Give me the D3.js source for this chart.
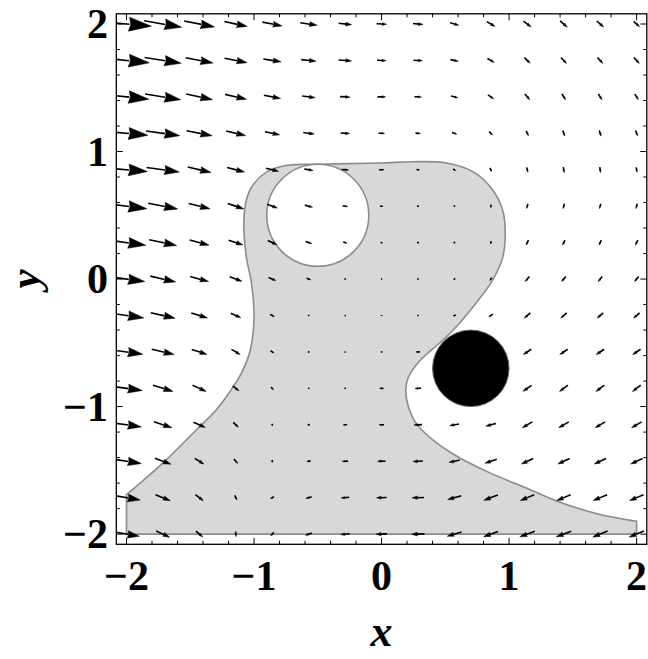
<!DOCTYPE html>
<html>
<head>
<meta charset="utf-8">
<script src="https://cdn.jsdelivr.net/npm/d3@7"></script>
<style>
  body { margin: 0; background: #fff; }
  svg { display: block; }
</style>
</head>
<body>
<svg width="648" height="659"></svg>
<script>
// grid where the field was sampled (15 x 15)
const gridX = [-2, -1.7143, -1.4286, -1.1429, -0.8571, -0.5714, -0.2857, 0, 0.2857, 0.5714, 0.8571, 1.1429, 1.4286, 1.7143, 2]
const gridY = [2, 1.7143, 1.4286, 1.1429, 0.8571, 0.5714, 0.2857, 0, -0.2857, -0.5714, -0.8571, -1.1429, -1.4286, -1.7143, -2]

// arrow heading, degrees clockwise from +x as it looks on the page (rows = gridY, cols = gridX)
const heading = [
  [5, 10, 11, 12, 11, 8, 6, 3, 5, 15, 30, 38, 42, 42, 42],
  [6, 9, 11, 11, 9, 6, 4, 2, 3, 12, 30, 45, 48, 48, 48],
  [6, 9, 12, 13, 11, 7, 3, 0, 3, 15, 35, 50, 58, 58, 58],
  [5, 8, 11, 13, 12, 8, 3, 0, 5, 20, 45, 65, 72, 72, 70],
  [5, 8, 13, 15, 14, 9, 5, 0, 10, 30, 60, 75, 82, 82, 80],
  [7, 11, 14, 19, 20, 15, 10, 0, 20, 60, 85, 105, 105, 105, 105],
  [8, 12, 15, 18, 25, 18, 15, 10, 0, 60, 105, 115, 115, 115, 115],
  [8, 13, 15, 20, 22, 20, 20, 0, 90, 135, 128, 130, 130, 130, 130],
  [8, 13, 17, 25, 27, 30, 45, 90, 150, 160, 145, 138, 138, 138, 138],
  [8, 13, 18, 30, 35, 45, 90, 180, 180, 165, 155, 146, 146, 146, 146],
  [8, 17, 24, 38, 45, 60, 150, 180, 178, 170, 160, 145, 143, 142, 142],
  [8, 18, 24, 42, 60, 170, 178, 180, 178, 170, 165, 150, 150, 150, 150],
  [9, 20, 32, 48, 90, 170, 178, 180, 178, 168, 162, 155, 155, 155, 155],
  [10, 22, 38, 65, 150, 165, 175, 178, 178, 165, 160, 158, 158, 158, 158],
  [10, 25, 40, 85, 130, 160, 175, 178, 178, 163, 160, 160, 160, 158, 158]
]

// relative speed (arrow length)
const speed = [
  [50, 38, 31, 23.5, 20, 17, 13, 10, 10, 9, 9.5, 9.5, 9.5, 9, 8],
  [46, 37, 28, 23, 18, 15, 13, 9, 9, 8, 8, 8, 8, 8, 8],
  [45, 36, 27, 22, 17, 13, 10, 8, 7, 7, 7, 7.5, 7, 7, 6.5],
  [43, 34, 26, 20, 15, 11, 9, 6, 5, 5, 5, 5.5, 6, 6, 6],
  [42, 33, 24, 18, 13, 9, 7, 5, 3, 3, 4, 5, 5.5, 5.5, 5],
  [41, 30, 22, 17, 11, 8, 5, 3, 2, 2, 3, 5, 5, 5, 5],
  [39, 28, 20, 15, 10, 6.5, 4, 2, 2, 2, 3, 5.5, 5.5, 5.5, 5.5],
  [37, 26, 19, 13, 8, 4.5, 1.5, 1, 1.5, 2, 3.5, 6.5, 6.5, 6.5, 6.5],
  [35, 25, 17, 11, 5, 1.5, 1, 1, 1.5, 3, 5, 8, 8, 8, 8],
  [33, 23, 16, 10, 4, 1.5, 1, 1.5, 4, 5, 7, 9.5, 9.5, 9.5, 9.5],
  [32, 21, 15, 8, 3.5, 1.5, 1.5, 4, 6, 7, 9, 10.5, 10.5, 10.5, 10.5],
  [30, 19, 13, 7, 2, 2.5, 4, 5, 8, 9.5, 10.5, 11.5, 11.5, 11.5, 11.5],
  [30, 17, 11, 6, 2.5, 4, 6, 8, 10, 11, 12.5, 13, 13, 13, 13],
  [28, 16, 10, 5, 4, 6, 8, 10, 12, 14, 15, 15, 15, 15, 15],
  [26, 15, 9, 5, 5, 7, 9, 11, 13, 15, 15.5, 16, 16, 16, 16]
]

// curved edge of the grey set, from the right wall round to the left wall
const regionEdge = [
  [2, -1.9], [1.69, -1.84], [1.4, -1.75], [1.14, -1.64], [0.85, -1.52], [0.59, -1.39],
  [0.4, -1.26], [0.27, -1.13], [0.21, -1.0], [0.19, -0.87], [0.21, -0.77], [0.3, -0.64],
  [0.48, -0.48], [0.59, -0.37], [0.74, -0.19], [0.87, -0.01], [0.95, 0.17], [0.97, 0.36],
  [0.95, 0.54], [0.87, 0.7], [0.72, 0.84], [0.51, 0.91], [0.24, 0.92], [-0.01, 0.91],
  [-0.51, 0.9], [-0.75, 0.89], [-0.9, 0.84], [-1.02, 0.72], [-1.06, 0.62], [-1.08, 0.44],
  [-1.06, 0.17], [-1.02, -0.03], [-1.0, -0.3], [-1.03, -0.56], [-1.1, -0.74], [-1.18, -0.87],
  [-1.3, -1.03], [-1.43, -1.16], [-1.69, -1.42], [-1.87, -1.58], [-2, -1.69]
]
const regionBase = [[-2, -2], [2, -2]]

const hole = {x: -0.5, y: 0.5, r: 0.4}
const target = {x: 0.7, y: -0.7, r: 0.3}

const majorTicks = [-2, -1, 0, 1, 2]
const minorTicks = [-1.8, -1.6, -1.4, -1.2, -0.8, -0.6, -0.4, -0.2, 0.2, 0.4, 0.6, 0.8, 1.2, 1.4, 1.6, 1.8]

const svg = d3.select("svg")

const frameL = 116.3, frameR = 646.8, frameT = 13.8, frameB = 544.3
const x = d3.scaleLinear().domain([-2.08, 2.08]).range([frameL, frameR])
const y = d3.scaleLinear().domain([-2.08, 2.08]).range([frameB, frameT])
const arrowLen = d3.scaleLinear().domain([0, 50]).range([0, 0.392])

svg.append("defs").append("clipPath").attr("id", "clip")
  .append("rect")
  .attr("x", frameL).attr("y", frameT)
  .attr("width", frameR - frameL).attr("height", frameB - frameT)

// grey region
const curve = d3.line().x(d => x(d[0])).y(d => y(d[1])).curve(d3.curveCatmullRom)
const regionPath = "M" + x(regionBase[0][0]) + "," + y(regionBase[0][1]) +
  "L" + x(regionBase[1][0]) + "," + y(regionBase[1][1]) +
  curve(regionEdge).replace(/^M/, "L") + "Z"

svg.append("path")
  .attr("d", regionPath)
  .attr("fill", "#d8d8d8")
  .attr("stroke", "#8c8c8c")
  .attr("stroke-width", 1.6)
  .attr("stroke-linejoin", "round")

svg.append("circle")
  .attr("cx", x(hole.x)).attr("cy", y(hole.y))
  .attr("r", x(hole.r) - x(0))
  .attr("fill", "#fff")
  .attr("stroke", "#8c8c8c")
  .attr("stroke-width", 1.6)

// vector field
const cells = []
gridY.forEach((gy, i) => {
  gridX.forEach((gx, j) => {
    cells.push({gx: gx, gy: gy, h: heading[i][j], s: speed[i][j]})
  })
})

const arrows = svg.append("g")
  .attr("clip-path", "url(#clip)")
  .selectAll("g")
  .data(cells)
  .enter().append("g")

arrows.each(function(d) {
  const a = d.h * Math.PI / 180
  const half = arrowLen(d.s) / 2
  const dx = Math.cos(a) * half, dy = -Math.sin(a) * half
  const x0 = x(d.gx - dx), y0 = y(d.gy - dy)
  const x1 = x(d.gx + dx), y1 = y(d.gy + dy)
  const L = Math.hypot(x1 - x0, y1 - y0)
  if (L === 0) return
  const ux = (x1 - x0) / L, uy = (y1 - y0) / L
  const hl = 0.45 * L, hw = 0.14 * L
  const bx = x1 - ux * hl, by = y1 - uy * hl
  const g = d3.select(this)
  g.append("line")
    .attr("x1", x0).attr("y1", y0)
    .attr("x2", bx + ux * 0.5).attr("y2", by + uy * 0.5)
    .attr("stroke", "#000")
    .attr("stroke-width", 1.6)
  g.append("path")
    .attr("d", "M" + x1 + "," + y1 +
      "L" + (bx - uy * hw) + "," + (by + ux * hw) +
      "L" + (bx + ux * hl * 0.08) + "," + (by + uy * hl * 0.08) +
      "L" + (bx + uy * hw) + "," + (by - ux * hw) + "Z")
    .attr("fill", "#000")
    .attr("stroke", "#000")
    .attr("stroke-width", 0.5)
})

// black target disk
svg.append("circle")
  .attr("cx", x(target.x)).attr("cy", y(target.y))
  .attr("r", x(target.r) - x(0))
  .attr("fill", "#000")
  .attr("stroke", "#666")
  .attr("stroke-width", 1)

// frame
svg.append("rect")
  .attr("x", frameL).attr("y", frameT)
  .attr("width", frameR - frameL).attr("height", frameB - frameT)
  .attr("fill", "none")
  .attr("stroke", "#000")
  .attr("stroke-width", 1.3)

const ticks = svg.append("g").attr("stroke", "#000").attr("stroke-width", 1)
function drawTicks(values, len) {
  values.forEach(v => {
    ticks.append("line").attr("x1", x(v)).attr("x2", x(v)).attr("y1", frameB).attr("y2", frameB - len)
    ticks.append("line").attr("x1", x(v)).attr("x2", x(v)).attr("y1", frameT).attr("y2", frameT + len)
    ticks.append("line").attr("y1", y(v)).attr("y2", y(v)).attr("x1", frameL).attr("x2", frameL + len)
    ticks.append("line").attr("y1", y(v)).attr("y2", y(v)).attr("x1", frameR).attr("x2", frameR - len)
  })
}
drawTicks(majorTicks, 6.5)
drawTicks(minorTicks, 3.5)

const fmt = v => v < 0 ? "\u2212" + Math.abs(v) : String(v)
const font = "'Liberation Serif', 'Times New Roman', serif"

svg.append("g").selectAll("text")
  .data(majorTicks)
  .enter().append("text")
  .attr("x", d => x(d))
  .attr("y", 590)
  .attr("text-anchor", "middle")
  .style("font-family", font)
  .style("font-weight", "bold")
  .style("font-size", "42px")
  .text(fmt)

svg.append("g").selectAll("text")
  .data(majorTicks)
  .enter().append("text")
  .attr("x", 108)
  .attr("y", d => y(d))
  .attr("dy", "0.34em")
  .attr("text-anchor", "end")
  .style("font-family", font)
  .style("font-weight", "bold")
  .style("font-size", "42px")
  .text(fmt)

svg.append("text")
  .attr("x", x(0))
  .attr("y", 646)
  .attr("text-anchor", "middle")
  .style("font-family", font)
  .style("font-weight", "bold")
  .style("font-style", "italic")
  .style("font-size", "44px")
  .text("x")

svg.append("text")
  .attr("transform", "translate(39," + y(0) + ") rotate(-90)")
  .attr("text-anchor", "middle")
  .style("font-family", font)
  .style("font-weight", "bold")
  .style("font-style", "italic")
  .style("font-size", "43px")
  .text("y")
</script>
</body>
</html>
